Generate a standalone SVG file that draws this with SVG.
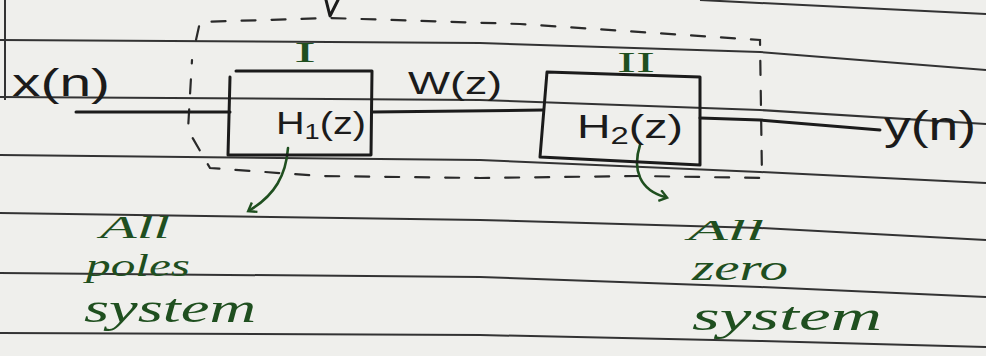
<svg xmlns="http://www.w3.org/2000/svg" width="986" height="356" viewBox="0 0 986 356">
<style>
.ink{fill:none;stroke:#1b1b1b;stroke-width:3;stroke-linecap:round;stroke-linejoin:round}
.rule{fill:none;stroke:#333;stroke-width:2}
.dash{fill:none;stroke:#2a2a2a;stroke-width:2.2;stroke-dasharray:14 16;stroke-linecap:round}
.gink{fill:none;stroke:#1f4f1f;stroke-width:2.6;stroke-linecap:round;stroke-linejoin:round}
.t{font-family:"Liberation Sans",Arial,sans-serif;fill:#1b1b1b}
.g{font-family:"Liberation Serif","Times New Roman",serif;font-style:italic;fill:#1f4f1f}
.num{font-family:"Liberation Serif","Times New Roman",serif;fill:#1f4f1f}
</style>
<defs>
<marker id="ah" viewBox="0 0 12 12" refX="6" refY="6" markerWidth="5" markerHeight="5" orient="auto">
<path d="M1,1 L8,6 L1,11" fill="none" stroke="#1f4f1f" stroke-width="2.2"/>
</marker>
</defs>
<rect width="986" height="356" fill="#efefec"/>
<g id="paper">
<path class="rule" d="M0,40 L480,43 L760,52 L986,70"/>
<path class="rule" d="M0,97 L480,100 L760,110 L986,124"/>
<path class="rule" d="M0,155 L480,160 L760,172 L986,183"/>
<path class="rule" d="M0,213 L480,220 L760,228 L986,240"/>
<path class="rule" d="M0,273 L480,277 L760,287 L986,297"/>
<path class="rule" d="M0,333 L480,335 L760,341 L986,347"/>
<path class="rule" d="M700,0 L986,14"/>
<path class="rule" d="M5,0 L5,100"/>
</g>
<g id="group-boundary">
<path class="dash" d="M196,40 L200,22 L330,18 L520,24 L760,40 L762,178 L640,176 L480,178 L320,176 L210,168 L188,130 L192,60"/>
</g>
<g id="connectors">
<path class="ink" d="M76,112 L230,112"/>
<path class="ink" d="M372,112 L543,110"/>
<path class="ink" d="M700,118 L760,120 L880,130"/>
<path class="gink" d="M288,148 C286,175 275,195 250,210" marker-end="url(#ah)"/>
<path class="gink" d="M640,145 C632,170 640,190 665,197" marker-end="url(#ah)"/>
<path class="ink" d="M326,0 L330,16 L338,0"/>
</g>
<g id="input">
<text class="t" x="12" y="96" font-size="38" textLength="98" lengthAdjust="spacingAndGlyphs">x(n)</text>
</g>
<g id="box1">
<path class="ink" d="M236,71 L372,71 L371,155 L228,155 L230,77"/>
<text class="t" x="276" y="134" font-size="32" textLength="90" lengthAdjust="spacingAndGlyphs">H<tspan font-size="22" dy="5">1</tspan><tspan dy="-5">(z)</tspan></text>
<text class="num" x="294" y="62" font-size="30" textLength="22" lengthAdjust="spacingAndGlyphs">I</text>
</g>
<g id="signal-w">
<text class="t" x="408" y="94" font-size="32" textLength="94" lengthAdjust="spacingAndGlyphs">W(z)</text>
</g>
<g id="box2">
<path class="ink" d="M547,72 L700,77 L700,165 L540,157 Z"/>
<text class="t" x="577" y="138" font-size="34" textLength="106" lengthAdjust="spacingAndGlyphs">H<tspan font-size="24" dy="6">2</tspan><tspan dy="-6">(z)</tspan></text>
<text class="num" x="617" y="72" font-size="30" textLength="38" lengthAdjust="spacingAndGlyphs">II</text>
</g>
<g id="output">
<text class="t" x="884" y="140" font-size="40" textLength="92" lengthAdjust="spacingAndGlyphs">y(n)</text>
</g>
<g id="note-poles">
<text class="g" x="100" y="238" font-size="32" textLength="70" lengthAdjust="spacingAndGlyphs">All</text>
<text class="g" x="86" y="276" font-size="32" textLength="104" lengthAdjust="spacingAndGlyphs">poles</text>
<text class="g" x="84" y="322" font-size="40" textLength="172" lengthAdjust="spacingAndGlyphs">system</text>
</g>
<g id="note-zero">
<text class="g" x="688" y="240" font-size="30" textLength="76" lengthAdjust="spacingAndGlyphs">All</text>
<text class="g" x="692" y="280" font-size="36" textLength="96" lengthAdjust="spacingAndGlyphs">zero</text>
<text class="g" x="692" y="330" font-size="40" textLength="190" lengthAdjust="spacingAndGlyphs">system</text>
</g>
</svg>
